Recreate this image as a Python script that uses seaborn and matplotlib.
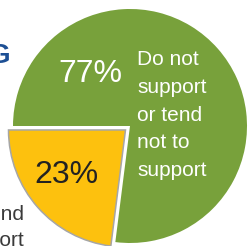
import matplotlib
matplotlib.use("Agg")
import matplotlib.pyplot as plt
import seaborn as sns

# ---- data ----
labels = ["Support or tend\nto support", "Do not\nsupport\nor tend\nnot to\nsupport"]
shares = [23, 77]
colors = ["#fdc10e", "#78a13b"]

sns.set_style("white")
plt.rcParams["font.family"] = ["Liberation Sans", "DejaVu Sans"]

fig = plt.figure(figsize=(2.48, 2.46), dpi=100)
ax = fig.add_axes([0, 0, 1, 1])

wedges, _ = ax.pie(shares, colors=colors, startangle=180, counterclock=True,
                   center=(130, 120), radius=117, explode=[6, 0],
                   wedgeprops={"linewidth": 0})
wedges[0].set_edgecolor("#a6a6a6")
wedges[0].set_linewidth(1.1)
ax.set_xlim(0, 248)
ax.set_ylim(0, 246)
ax.set_aspect("equal")
ax.axis("off")

pct_font = ["Liberation Sans Narrow", "Liberation Sans"]
ax.text(90.5, 164, f"{shares[1]}%", color="white", fontsize=23,
        ha="center", va="baseline", family=pct_font)
ax.text(66.5, 63, f"{shares[0]}%", color="#222222", fontsize=23,
        ha="center", va="baseline", family=pct_font)

# multi-line baseline = last line's baseline
ax.text(137, 70, labels[1], color="white", fontsize=15,
        ha="left", va="baseline", linespacing=1.58)
ax.text(23.5, 0, labels[0], color="#3a3a3a", fontsize=15,
        ha="right", va="baseline", multialignment="right", linespacing=1.5)

# cut-off title fragment at the left edge
ax.text(11, 183, "G", color="#1d4f94", fontsize=20, fontweight="bold",
        ha="right", va="baseline")

fig.savefig("out.png", dpi=100)
